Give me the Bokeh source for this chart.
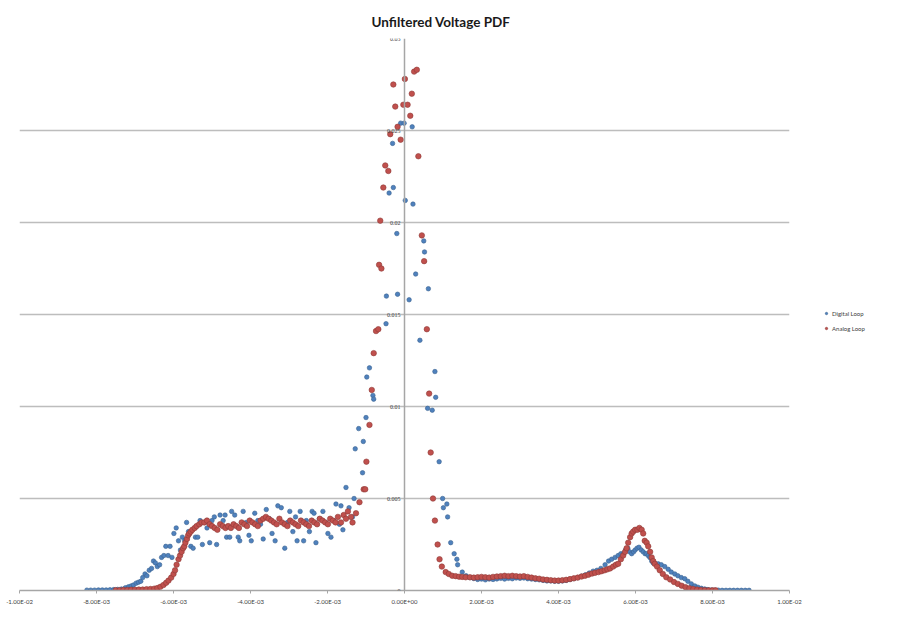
import numpy as np
from bokeh.plotting import figure
from bokeh.layouts import column
from bokeh.models import (ColumnDataSource, FixedTicker, Grid, Span, LabelSet,
                          Legend, LegendItem, Spacer)
from bokeh.embed import file_html
from bokeh.resources import INLINE

title_text = "Unfiltered Voltage PDF"
series_names = ["Digital Loop", "Analog Loop"]

x_ticks = [-0.01, -0.008, -0.006, -0.004, -0.002, 0.0, 0.002, 0.004, 0.006, 0.008, 0.01]
x_tick_labels = ["-1.00E-02", "-8.00E-03", "-6.00E-03", "-4.00E-03", "-2.00E-03", "0.00E+00",
                 "2.00E-03", "4.00E-03", "6.00E-03", "8.00E-03", "1.00E-02"]
y_ticks = [0.0, 0.005, 0.01, 0.015, 0.02, 0.025, 0.03]
y_tick_labels = ["0", "0.005", "0.01", "0.015", "0.02", "0.025", "0.03"]

# ---- Digital Loop (voltage in mV, PDF value) ----
digital_left_mv = [-8.25, -8.15, -8.05, -7.95, -7.85, -7.75, -7.65, -7.55, -7.45, -7.35,
                   -7.25, -7.17, -7.10, -7.04, -6.97, -6.91, -6.85, -6.80, -6.74, -6.69,
                   -6.63, -6.57, -6.52, -6.47, -6.42, -6.36, -6.31, -6.25, -6.20, -6.14,
                   -6.09, -6.04, -5.99, -5.93, -5.87, -5.82, -5.77, -5.71, -5.66, -5.61,
                   -5.55, -5.49, -5.43, -5.37, -5.31, -5.25, -5.19, -5.13, -5.06, -5.00]
digital_left_pdf = [0.00002, 0.00002, 0.00002, 0.00003, 0.00003, 0.00003, 0.00004, 0.00005, 0.00006, 0.00008,
                    0.00015, 0.0002, 0.00025, 0.0003, 0.0004, 0.00045, 0.0005, 0.0007, 0.0009, 0.0008,
                    0.0011, 0.0012, 0.0016, 0.0015, 0.0013, 0.0014, 0.0018, 0.0019, 0.0024, 0.0019,
                    0.0024, 0.0018, 0.0031, 0.0034, 0.0027, 0.0022, 0.0029, 0.0027, 0.0037, 0.0032,
                    0.0024, 0.0023, 0.0029, 0.0029, 0.0038, 0.0025, 0.0037, 0.0034, 0.0026, 0.0038]

digital_flat_mv = [-4.94, -4.88, -4.79, -4.71, -4.66, -4.62, -4.54, -4.49, -4.41, -4.32,
                   -4.28, -4.19, -4.11, -4.04, -3.98, -3.89, -3.81, -3.74, -3.67, -3.59,
                   -3.51, -3.44, -3.36, -3.29, -3.20, -3.11, -3.04, -2.98, -2.90, -2.83,
                   -2.79, -2.71, -2.62, -2.55, -2.47, -2.40, -2.35, -2.30, -2.21, -2.12,
                   -2.05, -1.99, -1.91, -1.84, -1.78, -1.69, -1.65, -1.60, -1.52, -1.44]
digital_flat_pdf = [0.0040, 0.0025, 0.0041, 0.0038, 0.0041, 0.0029, 0.0029, 0.0043, 0.0041, 0.0029,
                    0.0027, 0.0043, 0.0037, 0.0030, 0.0027, 0.0042, 0.0038, 0.0036, 0.0028, 0.0044,
                    0.0039, 0.0031, 0.0027, 0.0046, 0.0045, 0.0023, 0.0037, 0.0043, 0.0032, 0.0040,
                    0.0027, 0.0043, 0.0027, 0.0038, 0.0032, 0.0043, 0.0042, 0.0026, 0.0039, 0.0043,
                    0.0037, 0.0031, 0.0029, 0.0038, 0.0047, 0.0036, 0.0046, 0.0033, 0.0056, 0.0045]

digital_peak_mv = [-1.35, -1.31, -1.28, -1.19, -1.09, -1.07, -1.00, -0.98, -0.91, -0.82,
                   -0.80, -0.48, -0.47, -0.40, -0.31, -0.29, -0.20, -0.18, -0.10, -0.01, 0.02,
                   0.12, 0.20, 0.22, 0.29, 0.40, 0.50, 0.52, 0.60, 0.62, 0.72,
                   0.79, 0.81, 0.90, 0.99, 1.01, 1.10, 1.12, 1.20, 1.29, 1.36,
                   1.38, 1.50]
digital_peak_pdf = [0.0040, 0.0050, 0.0077, 0.0088, 0.0064, 0.0081, 0.0094, 0.0116, 0.0121, 0.0106,
                    0.0104, 0.0145, 0.0160, 0.0216, 0.0243, 0.0219, 0.0194, 0.0161, 0.0254, 0.0254, 0.0212,
                    0.0158, 0.0252, 0.0210, 0.0172, 0.0136, 0.0190, 0.0184, 0.0099, 0.0164, 0.0098,
                    0.0119, 0.0105, 0.0070, 0.0050, 0.0045, 0.0047, 0.0040, 0.0026, 0.0020, 0.0017,
                    0.0014, 0.0010]

digital_right_mv = [1.60, 1.70, 1.80, 1.90, 2.00, 2.10, 2.20, 2.30, 2.40, 2.50,
                    2.60, 2.70, 2.80, 2.90, 3.00, 3.10, 3.20, 3.30, 3.40, 3.50,
                    3.60, 3.70, 3.80, 3.90, 4.00, 4.10, 4.20, 4.30, 4.40, 4.50,
                    4.60, 4.70, 4.80, 4.90, 5.00, 5.10, 5.21, 5.30, 5.38, 5.47,
                    5.55, 5.62, 5.68, 5.74, 5.80, 5.85, 5.90, 5.95, 5.99, 6.04,
                    6.09, 6.15, 6.20, 6.25, 6.29, 6.33, 6.37, 6.42, 6.46, 6.52,
                    6.59, 6.67, 6.76, 6.85, 6.93, 7.02, 7.10, 7.19, 7.28, 7.36,
                    7.45, 7.54, 7.62, 7.71, 7.80, 7.88, 7.97, 8.06, 8.15, 8.25,
                    8.35, 8.45, 8.55, 8.65, 8.75, 8.85, 8.95]
digital_right_pdf = [0.0008, 0.0007, 0.00065, 0.0006, 0.00062, 0.00058, 0.00062, 0.0006, 0.00063, 0.00066,
                     0.00062, 0.00066, 0.00064, 0.00068, 0.00066, 0.00068, 0.00064, 0.00062, 0.0006, 0.00058,
                     0.00055, 0.00052, 0.00052, 0.0005, 0.0005, 0.00052, 0.00055, 0.0006, 0.00065, 0.0007,
                     0.00078, 0.00085, 0.00095, 0.00105, 0.0011, 0.0012, 0.0014, 0.0016, 0.0017, 0.0018,
                     0.0019, 0.0020, 0.0020, 0.0022, 0.0023, 0.0021, 0.0020, 0.0021, 0.0022, 0.0023,
                     0.00235, 0.0022, 0.0021, 0.0020, 0.0020, 0.0019, 0.0018, 0.0016, 0.0015, 0.00145,
                     0.00145, 0.0014, 0.0013, 0.00115, 0.0010, 0.0009, 0.0008, 0.0007, 0.00064, 0.0005,
                     0.00036, 0.00025, 0.00018, 0.00012, 0.00008, 0.00005, 0.00003, 0.00002, 0.00002, 0.00001,
                     0.00001, 0.00001, 0.00001, 0.00001, 0.00001, 0.00001, 0.00001]

# ---- Analog Loop (voltage in mV, PDF value) ----
analog_left_mv = [-7.50, -7.40, -7.30, -7.20, -7.10, -7.00, -6.90, -6.80, -6.70, -6.60,
                  -6.50, -6.42, -6.34, -6.26, -6.19, -6.13, -6.06, -6.00, -5.96, -5.92,
                  -5.87, -5.83, -5.79, -5.75, -5.72, -5.69, -5.65, -5.62, -5.59, -5.55,
                  -5.51, -5.45, -5.40, -5.33, -5.27, -5.20, -5.13, -5.06, -5.00, -4.93]
analog_left_pdf = [0.00002, 0.00002, 0.00003, 0.00003, 0.00004, 0.00004, 0.00005, 0.00005, 0.00007, 0.00008,
                   0.0001, 0.00013, 0.0002, 0.0003, 0.00042, 0.00054, 0.0007, 0.0009, 0.0011, 0.0014,
                   0.0017, 0.0019, 0.0021, 0.0023, 0.0024, 0.0026, 0.0028, 0.0030, 0.0031, 0.0032,
                   0.0033, 0.0034, 0.0035, 0.0036, 0.0037, 0.0037, 0.0038, 0.0036, 0.0035, 0.0034]

analog_flat_mv = [-4.86, -4.79, -4.72, -4.65, -4.58, -4.51, -4.44, -4.37, -4.30, -4.23,
                  -4.16, -4.09, -4.02, -3.95, -3.88, -3.81, -3.74, -3.67, -3.60, -3.53,
                  -3.46, -3.39, -3.32, -3.25, -3.18, -3.11, -3.04, -2.97, -2.90, -2.83,
                  -2.76, -2.69, -2.62, -2.55, -2.48, -2.41, -2.34, -2.27, -2.20, -2.13,
                  -2.06, -1.99, -1.93, -1.86, -1.79, -1.73, -1.65, -1.58, -1.52, -1.47,
                  -1.39, -1.35, -1.26, -1.17]
analog_flat_pdf = [0.0033, 0.0036, 0.0035, 0.0034, 0.0035, 0.0034, 0.0036, 0.0035, 0.0034, 0.0037,
                   0.0036, 0.0035, 0.0038, 0.0037, 0.0036, 0.0035, 0.0038, 0.0039, 0.0040, 0.0039,
                   0.0038, 0.0037, 0.0036, 0.0039, 0.0037, 0.0036, 0.0035, 0.0038, 0.0037, 0.0036,
                   0.0035, 0.0038, 0.0037, 0.0036, 0.0035, 0.0038, 0.0037, 0.0036, 0.0039, 0.0038,
                   0.0037, 0.0036, 0.0039, 0.0038, 0.0037, 0.0040, 0.0037, 0.0041, 0.0039, 0.0043,
                   0.0040, 0.0037, 0.0042, 0.0048]

analog_peak_mv = [-1.06, -1.02, -0.99, -0.91, -0.85, -0.80, -0.74, -0.68, -0.66, -0.63,
                  -0.60, -0.55, -0.50, -0.42, -0.37, -0.29, -0.24, -0.18, -0.10, -0.03,
                  0.01, 0.08, 0.15, 0.19, 0.25, 0.32, 0.36, 0.45, 0.51, 0.58,
                  0.64, 0.68, 0.74, 0.79, 0.86, 0.91, 0.97]
analog_peak_pdf = [0.0055, 0.0055, 0.0070, 0.0090, 0.0109, 0.0129, 0.0141, 0.0142, 0.0177, 0.0201,
                   0.0175, 0.0219, 0.0231, 0.0228, 0.0248, 0.0275, 0.0263, 0.0252, 0.0245, 0.0264,
                   0.0278, 0.0264, 0.0258, 0.0270, 0.0282, 0.0283, 0.0236, 0.0193, 0.0179, 0.0142,
                   0.0107, 0.0075, 0.0050, 0.0038, 0.0025, 0.0017, 0.0013]

analog_right_mv = [1.07, 1.15, 1.24, 1.33, 1.42, 1.50, 1.59, 1.70, 1.80, 1.90,
                   2.00, 2.10, 2.20, 2.30, 2.40, 2.50, 2.60, 2.70, 2.80, 2.90,
                   3.00, 3.10, 3.20, 3.30, 3.40, 3.50, 3.60, 3.70, 3.80, 3.90,
                   4.00, 4.10, 4.20, 4.30, 4.40, 4.50, 4.60, 4.69, 4.78, 4.87,
                   4.95, 5.04, 5.12, 5.20, 5.27, 5.34, 5.42, 5.49, 5.55, 5.62,
                   5.68, 5.73, 5.77, 5.81, 5.86, 5.90, 5.94, 5.99, 6.05, 6.10,
                   6.16, 6.20, 6.24, 6.29, 6.33, 6.38, 6.42, 6.46, 6.50, 6.56,
                   6.63, 6.71, 6.80, 6.90, 7.00, 7.10, 7.20, 7.30, 7.40, 7.50,
                   7.60, 7.70, 7.80, 7.90, 8.00, 8.08]
analog_right_pdf = [0.0010, 0.0009, 0.0008, 0.00078, 0.00075, 0.00074, 0.00072, 0.00072, 0.0007, 0.00072,
                    0.00074, 0.00072, 0.0007, 0.00074, 0.00076, 0.00078, 0.0008, 0.00078, 0.0008, 0.00078,
                    0.00076, 0.00078, 0.00074, 0.0007, 0.00066, 0.00064, 0.0006, 0.00058, 0.00056, 0.00054,
                    0.00054, 0.00056, 0.00058, 0.00062, 0.00066, 0.0007, 0.00076, 0.0008, 0.00086, 0.00092,
                    0.00096, 0.0010, 0.00105, 0.0011, 0.00115, 0.0012, 0.0013, 0.0014, 0.00145, 0.0017,
                    0.0019, 0.0021, 0.0023, 0.0026, 0.0029, 0.0031, 0.0032, 0.0033, 0.0033, 0.0034,
                    0.0033, 0.0031, 0.0027, 0.0026, 0.0024, 0.0021, 0.0018, 0.0016, 0.00145, 0.0013,
                    0.0011, 0.0009, 0.00072, 0.0006, 0.00046, 0.00036, 0.00026, 0.00018, 0.00012, 0.00008,
                    0.00005, 0.00003, 0.00002, 0.00001, 0.00001, 0.00001]

digital_mv = digital_left_mv + digital_flat_mv + digital_peak_mv + digital_right_mv
digital_pdf = digital_left_pdf + digital_flat_pdf + digital_peak_pdf + digital_right_pdf
analog_mv = analog_left_mv + analog_flat_mv + analog_peak_mv + analog_right_mv
analog_pdf = analog_left_pdf + analog_flat_pdf + analog_peak_pdf + analog_right_pdf

FONT = "Lato"
TXT = "#404040"

p = figure(frame_width=770, frame_height=552, x_range=(-0.01, 0.01), y_range=(0, 0.03),
           output_backend="svg", toolbar_location=None, y_axis_location=None,
           min_border_left=19, min_border_right=0, min_border_top=30, min_border_bottom=20,
           background_fill_color="white", border_fill_color="white", outline_line_color=None)

p.title.text = title_text
p.title.align = "left"
p.title.offset = 352
p.title.text_font = FONT
p.title.text_font_size = "13.5px"
p.title.text_font_style = "bold"
p.title.text_color = "#1a1a1a"
p.title.standoff = 17

for g in p.grid:
    g.grid_line_color = None

p.add_layout(Grid(dimension=1, ticker=FixedTicker(ticks=y_ticks),
                  grid_line_color="#bdbdbd", grid_line_width=1.5))
p.add_layout(Span(location=0, dimension="height", line_color="#a6a6a6", line_width=1.5))

ax = p.xaxis[0]
ax.ticker = FixedTicker(ticks=x_ticks)
ax.major_label_overrides = {t: l for t, l in zip(x_ticks, x_tick_labels)}
ax.axis_line_color = "#a6a6a6"
ax.axis_line_width = 1.5
ax.major_tick_line_color = "#a6a6a6"
ax.major_tick_in = 0
ax.major_tick_out = 3
ax.minor_tick_line_color = None
ax.major_label_standoff = 4
ax.major_label_text_font = FONT
ax.major_label_text_font_size = "6px"
ax.major_label_text_color = TXT

ylab_src = ColumnDataSource(dict(x=[0.0] * len(y_ticks), y=y_ticks, text=y_tick_labels))
p.add_layout(LabelSet(x="x", y="y", text="text", source=ylab_src, x_offset=-4,
                      text_align="right", text_baseline="middle",
                      text_font=FONT, text_font_size="6px", text_color=TXT))

src_d = ColumnDataSource(dict(x=np.array(digital_mv) * 1e-3, y=digital_pdf))
src_a = ColumnDataSource(dict(x=np.array(analog_mv) * 1e-3, y=analog_pdf))

r_d = p.scatter("x", "y", source=src_d, marker="circle", size=4.5,
                fill_color="#4f81bd", line_color="#3b6390", line_width=0.6)
r_a = p.scatter("x", "y", source=src_a, marker="circle", size=5.5,
                fill_color="#c0504d", line_color="#8e3a38", line_width=0.6)

legend = Legend(items=[LegendItem(label=series_names[0], renderers=[r_d]),
                       LegendItem(label=series_names[1], renderers=[r_a])],
                location=(34, 258), orientation="vertical",
                label_text_font=FONT, label_text_font_size="6px", label_text_color=TXT,
                glyph_width=6, glyph_height=6, label_height=8, label_standoff=3,
                spacing=7, padding=26, margin=0,
                border_line_color=None, background_fill_alpha=0)
p.add_layout(legend, "right")

layout = column(Spacer(height=3), p)
open("out.html", "w").write(file_html(layout, INLINE))
